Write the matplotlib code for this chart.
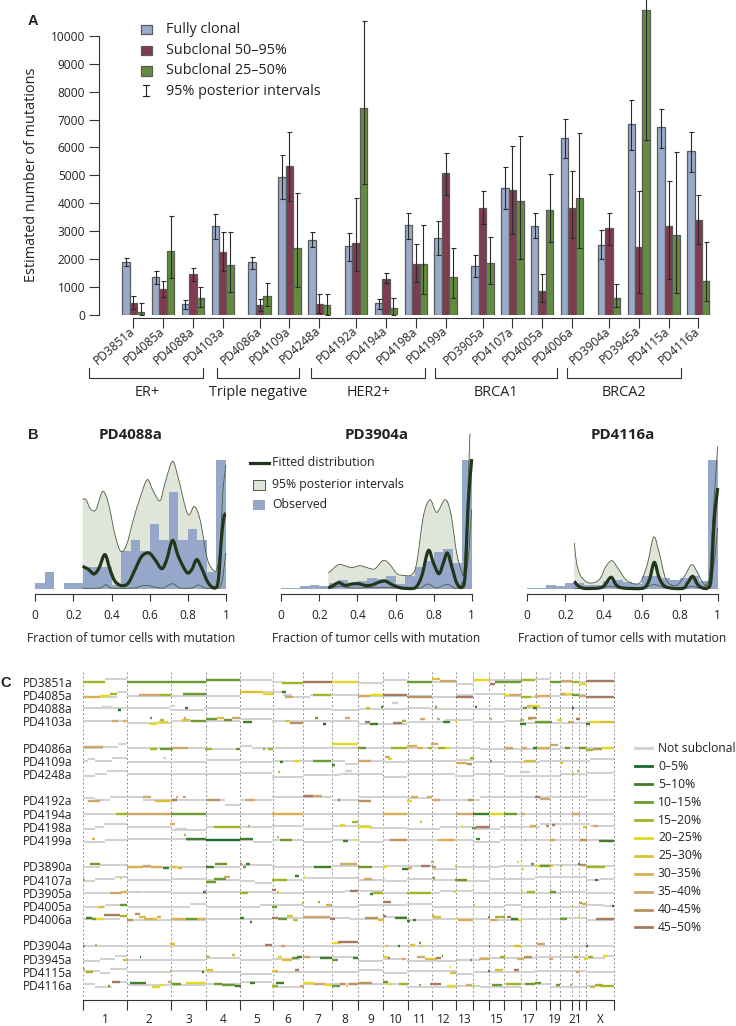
import numpy as np
import matplotlib
matplotlib.use('Agg')
import matplotlib.pyplot as plt
from matplotlib.patches import Rectangle, PathPatch
from matplotlib.path import Path

plt.rcParams['font.family'] = ['Open Sans', 'DejaVu Sans']

W, H = 736, 1026

# ---- panel A data
samples_a = ['PD3851a', 'PD4085a', 'PD4088a', 'PD4103a', 'PD4086a', 'PD4109a', 'PD4248a',
             'PD4192a', 'PD4194a', 'PD4198a', 'PD4199a', 'PD3905a', 'PD4107a', 'PD4005a',
             'PD4006a', 'PD3904a', 'PD3945a', 'PD4115a', 'PD4116a']
group_a = [0, 0, 0, 0, 1, 1, 1, 2, 2, 2, 2, 3, 3, 3, 3, 4, 4, 4, 4]
group_names = ['ER+', 'Triple negative', 'HER2+', 'BRCA1', 'BRCA2']

clonal = [1900, 1330, 370, 3160, 1870, 4930, 2690, 2450, 420, 3200, 2730, 1725, 4530, 3190, 6340, 2510, 6830, 6720, 5860]
clonal_lo = [1750, 1080, 200, 2700, 1650, 4150, 2420, 1930, 200, 2720, 2130, 1330, 3800, 2730, 5620, 2010, 5920, 5980, 5110]
clonal_hi = [2030, 1550, 510, 3600, 2060, 5730, 2950, 2930, 570, 3650, 3350, 2120, 5280, 3630, 7020, 3020, 7710, 7380, 6550]
sub50 = [430, 920, 1460, 2240, 340, 5330, 380, 2580, 1290, 1800, 5080, 3810, 4480, 830, 3840, 3090, 2440, 3160, 3380]
sub50_lo = [200, 620, 1200, 1550, 120, 4060, 50, 1550, 1120, 1160, 4300, 3250, 2890, 455, 2750, 2510, 780, 1260, 2530]
sub50_hi = [660, 1220, 1660, 2950, 570, 6570, 750, 4200, 1480, 2540, 5810, 4420, 6060, 1470, 5170, 3630, 4450, 4800, 4290]
sub25 = [80, 2270, 580, 1770, 680, 2380, 330, 7420, 250, 1820, 1330, 1860, 4060, 3750, 4200, 610, 10950, 2870, 1220]
sub25_lo = [0, 1300, 270, 820, 300, 1000, 0, 4700, 0, 750, 590, 1100, 2000, 2600, 2370, 260, 6250, 780, 500]
sub25_hi = [400, 3530, 970, 2960, 1140, 4360, 720, 10530, 600, 3220, 2380, 2800, 6400, 5050, 6500, 1100, 11600, 5820, 2610]

# ---- panel B data
hist_edges = np.arange(0, 1.0001, 0.05)
b_titles = ['PD4088a', 'PD3904a', 'PD4116a']
hist_b = [
    [4.9, 13.2, 0, 4.9, 4.9, 17.4, 17.4, 17.4, 3, 29.8, 38, 29.8, 50.5, 38, 75.4, 38, 46.4, 38, 13.2, 100],
    [0.8, 0.8, 2, 3.4, 2, 4.5, 7, 5, 6, 8.5, 8, 10, 3.5, 10, 17.4, 21.5, 28.8, 31.3, 20, 100],
    [0.8, 0.8, 2.8, 2, 4.7, 4.7, 3.4, 3.4, 6, 7.3, 5.4, 3.6, 10.4, 10.4, 8.5, 6.7, 8.5, 10.4, 6, 100],
]
fit_x = [
    [.248, .278, .308, .334, .365, .392, .418, .453, .488, .523, .558, .596, .628, .663, .689, .720, .750, .794, .820, .846, .872, .907, .942, .960, .977, .990, 1.0],
    [.247, .273, .303, .335, .371, .406, .441, .476, .511, .546, .581, .616, .650, .702, .737, .772, .799, .828, .851, .872, .895, .921, .947, .965, .982, 1.0],
    [.247, .264, .299, .378, .405, .440, .466, .501, .606, .641, .667, .693, .729, .816, .842, .869, .895, .921, .947, .965, .982, 1.0],
]
fit_y = [
    [17.6, 15.3, 11.7, 16.3, 26.7, 15.0, 6.0, 2.6, 4.7, 15.0, 25.4, 28.0, 22.8, 15.8, 22.8, 37.8, 25.4, 13.0, 15.0, 22.8, 16.3, 4.7, 0.8, 7.3, 40.9, 56.5, 57.8],
    [.8, 2.8, 4.9, 2.8, 3.9, 4.1, 2.8, 3.1, 5.2, 6.2, 3.4, 1.3, .5, .8, 9.8, 29.8, 20.2, 11.9, 20.2, 28, 17.6, 4.7, 1.3, 9.8, 66.8, 101],
    [6, 2.8, .5, .8, 2.8, 9.1, 3.4, .8, .5, 7.3, 20.7, 8.5, 1.6, .5, 4.7, 9.8, 3.4, .8, .8, 7.3, 53.9, 78.5],
]
up_x = [
    [.248, .266, .290, .318, .353, .383, .418, .448, .479, .514, .549, .587, .619, .654, .680, .719, .750, .799, .834, .864, .899, .925, .951, .969, .983, 1.0],
    [.247, .299, .334, .370, .413, .457, .492, .536, .571, .606, .641, .685, .711, .746, .781, .816, .860, .890, .921, .947, .959, .973, .991],
    [.247, .259, .282, .326, .378, .413, .445, .475, .518, .562, .597, .632, .664, .693, .729, .781, .825, .863, .895, .921, .953, .974, 1.0],
]
up_y = [
    [69.9, 69.4, 62.2, 61.7, 75.8, 66.8, 42.1, 29.3, 34.5, 53.9, 70.7, 85.0, 75.9, 68.6, 82.3, 99.2, 86.3, 58.3, 64.2, 53.9, 25.4, 16.1, 15.0, 33.2, 74.6, 96.6],
    [12.4, 18.9, 18.1, 16.6, 18.1, 16.3, 15.8, 22.3, 18.9, 12, 10.6, 11.1, 20.2, 56.5, 69.4, 59.6, 69.4, 59, 28, 13.7, 13.7, 53.9, 121],
    [35.8, 20.2, 9.8, 4.7, 7.3, 17.6, 22, 16.3, 7.3, 4.1, 5.9, 20.2, 40.4, 28, 7.3, 2.6, 9.8, 18.9, 12.4, 5.2, 4.7, 53.9, 110.9],
]
lo_x = [
    [.248, .339, .371, .400, .514, .575, .636, .671, .720, .759, .820, .855, .890, .951, .977, 1.0],
    [.247, .308, .378, .536, .658, .729, .772, .816, .872, .921, .974, 1.0],
    [.247, .378, .440, .501, .606, .667, .729, .816, .865, .921, .974, 1.0],
]
lo_y = [
    [.5, .8, 3.4, .8, .8, 2.8, 1.3, .8, 4.1, .8, .8, 3.1, .8, .3, 4.7, 28],
    [.3, 2, .8, 1.3, .3, .8, 3.9, .8, 3.6, .3, 15, 61.7],
    [.3, .8, 2.1, .3, .8, 3.4, .8, .3, 2.1, .3, 15, 47.4],
]

# ---- panel C data
chrom_edges = [83.3, 127.3, 171.3, 206.3, 240.3, 272.7, 303.3, 332, 358.3, 383.3, 407.7, 432, 456,
               473.3, 489.3, 504.3, 521, 535.7, 550, 560.3, 572, 579.3, 586.3, 614]
chrom_names = ['1', '2', '3', '4', '5', '6', '7', '8', '9', '10', '11', '12', '13', '', '15', '',
               '17', '', '19', '', '21', '', 'X']
level_names = ['0–5%', '5–10%', '10–15%', '15–20%', '20–25%', '25–30%', '30–35%', '35–40%', '40–45%', '45–50%']
level_cols = ['#1a6a2c', '#3f7f2a', '#6c9a30', '#a3b42a', '#e3d922', '#dcc132', '#d6b052', '#d0a76a', '#b99262', '#a67a62']
grey = '#d2d2d2'

samples_c = ['PD3851a', 'PD4085a', 'PD4088a', 'PD4103a', 'PD4086a', 'PD4109a', 'PD4248a',
             'PD4192a', 'PD4194a', 'PD4198a', 'PD4199a', 'PD3890a', 'PD4107a', 'PD3905a',
             'PD4005a', 'PD4006a', 'PD3904a', 'PD3945a', 'PD4115a', 'PD4116a']
slots_c = [0, 1, 2, 3, 5, 6, 7, 9, 10, 11, 12, 14, 15, 16, 17, 18, 20, 21, 22, 23]

# grey level per sample: (start, offset), each runs until the next start
grey_steps = [
    [(83, 0), (105, -3), (127, 0), (206, -2), (272, 0), (283, 1), (303, 0), (358, 1), (383, -2), (407, 0), (456, 2), (473, -2), (535, -3), (550, 0), (586, -1)],
    [(83, 2), (117, -3), (127, 1), (240, -3), (283, 0), (292, 2), (310, 0), (358, 1), (432, 2), (456, 0), (473, -1), (504, 1), (521, 2), (540, 1), (560, 0), (586, 2)],
    [(83, 0), (170, 2), (204, 0), (240, 1), (332, 2), (358, 1), (407, 0), (430, 1), (473, 1), (520, 0)],
    [(83, 0), (127, 2), (171, 0), (240, -2), (272, 0), (358, 3), (407, 1), (445, -1), (473, 1), (505, 0), (521, 2), (586, 1)],
    [(83, 0), (103, -1), (118, -4), (127, 0), (205, 1), (240, -2), (252, 0), (358, 0), (480, 1), (560, 0)],
    [(83, 0), (88, -2), (95, 0), (112, -3), (127, 1), (206, -1), (240, 1), (272, 0), (345, 3), (358, 0), (385, 1), (407, 0), (456, -1), (473, 1), (540, 0), (590, -2)],
    [(83, 2), (95, 0), (107, -3), (127, 0), (240, -1), (272, 3), (303, 1), (340, 0), (383, 3), (407, 0), (455, 2), (473, 0), (504, 2), (560, 0), (586, -1)],
    [(83, -2), (95, 0), (110, -3), (143, 0), (206, 0), (225, 5), (240, 0), (272, -3), (332, 0), (358, -3), (407, -2), (432, 0), (480, -3), (586, 0)],
    [(83, 0)],
    [(83, 2), (95, 0), (104, -3), (127, 0), (172, 3), (206, 0), (272, -1), (303, 2), (332, -1), (370, 1), (407, 2), (440, 0), (473, 2), (500, 0), (540, -3), (590, -1)],
    [(83, 2), (105, 0), (127, -1), (186, 0), (253, 2), (272, 0), (303, 2), (332, 0), (360, 2), (383, 0), (473, 2), (500, 0)],
    [(83, 1), (100, -1), (127, 1), (240, -1), (272, 1), (332, 0), (358, 1), (383, 0), (432, 3), (456, 1), (500, 0), (540, -1), (586, 0)],
    [(83, 1), (95, -1), (115, -3), (127, 0), (171, -1), (206, 0), (240, 1), (255, 3), (272, 0), (303, -2), (358, 0), (385, 1), (407, -1), (432, 0), (456, 1), (490, -1), (535, -3), (586, 0), (600, -1)],
    [(83, 0), (120, -1), (171, 0), (206, -1), (272, 0), (303, -1), (345, -2), (383, 0), (440, -2), (473, 0), (560, -1), (586, 0)],
    [(83, 1), (105, -1), (127, 1), (190, -2), (206, 1), (260, -1), (303, 1), (358, -1), (407, -2), (432, 1), (505, -1), (521, 1), (586, -1), (604, 0)],
    [(83, 0), (120, -3), (127, 1), (206, 0), (272, -1), (350, 0), (383, -2), (407, 1), (432, 0), (490, 1), (521, 0), (560, -1), (586, 1)],
    [(83, 0)],
    [(83, 2), (100, 0), (115, -3), (127, 1), (206, -1), (240, 1), (272, 0), (300, -2), (358, 2), (383, 0), (407, 2), (456, 1), (480, -1), (535, -2), (586, -1), (605, -3)],
    [(83, -1), (100, 1), (110, -3), (127, 0), (171, -1), (206, 0), (240, 2), (272, 0), (358, -2), (383, 1), (407, -1), (456, 2), (473, 0), (535, -1), (586, 0)],
    [(83, -1), (95, 2), (112, -3), (127, 0), (206, -1), (240, -3), (272, 2), (303, -1), (407, 2), (456, 1), (480, 2), (521, -1), (550, 2), (586, 1)],
]

# coloured segments per sample: (start, end, offset, level), level -1 is a grey speck
segs = [
    [(83, 105, 0, 3), (127, 206, 0, 2), (206, 240, -2, 2), (282, 303, 1, 3), (303, 332, 0, 9), (332, 358, 0, 4), (407, 432, 0, 2), (432, 440, -3, 5), (440, 456, -1, 7), (473, 490, -2, 4), (490, 495, 2, 9), (495, 521, 0, 2), (521, 535, -2, 3), (550, 561, 0, 2), (561, 572, -1, 7), (572, 579, 0, 3), (579, 586, 2, 4), (586, 614, -1, 9)],
    [(83, 100, 2, 6), (100, 110, 1, 4), (110, 117, -1, 3), (139, 160, 0, 7), (160, 171, 0, 3), (183, 206, -1, 2), (240, 263, -3, 5), (263, 273, -1, 4), (282, 286, -3, 1), (285, 293, 2, 7), (313, 331, 0, 3), (358, 370, 1, 7), (370, 383, 0, 4), (383, 407, 0, 9), (407, 432, 2, 8), (456, 473, 2, 9), (504, 510, 0, 4), (510, 521, 0, 7), (521, 531, 2, 3), (535, 550, 1, 6), (560, 565, -1, 7), (565, 572, -1, 4), (572, 579, 0, 2), (579, 586, 1, 7), (586, 614, 2, 9)],
    [(102, 112, -1, -1), (118, 121, 2, 0), (170, 175, -2, -1), (185, 188, 0, 1), (366, 370, 0, 5), (381, 383, -1, 1), (392, 398, -5, -1), (435, 437, -1, 2), (475, 477, -1, 1), (523, 527, 0, 2), (527, 531, -2, 5), (531, 540, -2, 4), (533, 537, 0, 1), (572, 574, 0, 1)],
    [(112, 118, 0, 7), (123, 128, 0, 6), (150, 152, -3, 9), (150, 157, 3, 4), (158, 168, 1, 4), (160, 164, -1, 7), (182, 190, -1, 5), (184, 186, -3, 7), (191, 206, 0, 2), (206, 217, -2, 2), (217, 224, -3, 5), (224, 232, -1, 2), (232, 240, -3, 7), (243, 252, 1, 1), (285, 290, 0, 5), (290, 303, 2, 8), (315, 318, -3, 2), (323, 326, 3, 0), (345, 350, -3, 7), (365, 370, 1, 9), (370, 378, 3, 1), (393, 402, 2, 9), (402, 406, 0, 3), (420, 425, -2, 7), (437, 440, -2, 7), (443, 450, 1, 1), (455, 457, 0, 4), (490, 492, -2, 7), (520, 526, 3, 1), (520, 524, -1, 7), (528, 532, -2, 5), (528, 536, -3, 8), (535, 552, 1, 2), (557, 562, -1, 4), (568, 574, 1, 7), (576, 580, -2, 9), (586, 590, 3, 1), (590, 600, 1, 4), (600, 614, 1, 5)],
    [(83, 103, -1, 7), (150, 157, 1, 3), (160, 173, 1, 2), (173, 188, 0, 7), (205, 212, 1, 3), (236, 240, 1, 2), (263, 265, 1, 8), (268, 273, 1, 3), (332, 358, -4, 4), (358, 366, 0, 2), (391, 407, 0, 3), (407, 417, -2, 6), (417, 423, 0, 6), (428, 432, 0, 3), (431, 438, -4, 7), (438, 445, 0, 3), (445, 450, 0, 4), (505, 513, 0, 7), (522, 527, 0, 7), (533, 537, 0, 1), (537, 550, 0, 6), (550, 558, -3, 7), (565, 570, 0, 2), (579, 586, 0, 2), (586, 593, 2, 3), (593, 602, 1, 8), (602, 614, 0, 4)],
    [(163, 166, -3, -1), (280, 283, 1, 1), (294, 300, 0, 4), (313, 331, 0, 2), (332, 335, 4, 1), (358, 371, 0, 7), (385, 390, -4, 7), (388, 392, -2, 4), (456, 467, 2, 6), (467, 472, 3, 8), (470, 474, -3, 3), (490, 492, 0, 9), (524, 536, 0, 5), (560, 563, 2, 5)],
    [(278, 280, -2, 6), (572, 574, 0, 5), (577, 579, -3, 7), (345, 352, -3, -1), (520, 530, -2, -1)],
    [(88, 100, 1, 7), (143, 151, -3, 7), (155, 172, 1, 5), (172, 177, 0, 9), (176, 178, -3, 7), (183, 186, -3, 7), (206, 220, 0, 8), (245, 255, 0, 7), (303, 313, -4, 9), (313, 322, -4, 7), (338, 340, 0, 9), (358, 371, 1, 8), (407, 412, 1, 4), (411, 418, -3, 6), (427, 432, -3, 6), (432, 440, 0, 7), (468, 474, 0, 8), (535, 540, -3, 9), (540, 550, -1, 7)],
    [(116, 127, 0, 3), (127, 171, 0, 7), (171, 206, 0, 2), (272, 303, 0, 6), (383, 407, 0, 6), (456, 473, 0, 7), (473, 489, 0, 1), (489, 504, 0, 4), (504, 517, 0, 2), (521, 525, 0, 6), (572, 580, 0, 7)],
    [(170, 175, -3, 6), (175, 187, 2, -1), (214, 240, 0, 3), (248, 250, -1, 7), (340, 345, -2, 4), (352, 358, -5, 3), (358, 372, 0, 4), (420, 422, -5, 5), (462, 463, -1, 4), (472, 476, 1, 2), (476, 490, 0, 9), (530, 536, -1, 6), (546, 549, -1, 8), (552, 555, -2, 9), (583, 587, 0, 5), (593, 598, -1, 7)],
    [(92, 95, -1, 6), (184, 186, -5, 6), (186, 206, -1, 1), (206, 240, 0, 0), (240, 253, -1, 1), (277, 279, -3, 7), (280, 292, 0, 2), (343, 348, 1, 1), (354, 355, 0, 4), (390, 407, 0, 8), (438, 455, 0, 6), (476, 480, -1, 1), (525, 526, 0, 7), (550, 555, 0, 7), (580, 587, 0, 8), (599, 614, 1, 1)],
    [(90, 100, -2, 2), (127, 143, 1, 6), (143, 151, 0, 7), (151, 162, 1, 6), (163, 169, 2, 1), (172, 177, 1, 5), (178, 182, 2, 6), (206, 214, 1, 1), (215, 227, -2, 2), (240, 242, -2, 9), (243, 246, 1, 2), (246, 250, -2, 1), (314, 331, 1, 1), (340, 357, -2, 7), (358, 372, 1, 2), (383, 387, 1, 4), (402, 408, 3, 1), (408, 412, 2, 7), (421, 430, 0, 9), (431, 434, -4, 7), (432, 436, 1, 8), (455, 457, 0, 5), (517, 519, -4, 4), (521, 524, 3, 4), (531, 534, -2, 2), (535, 541, 0, 4), (540, 550, 0, 2), (550, 553, 0, 5), (560, 562, 0, 7), (578, 580, -2, 1), (580, 586, -1, 8), (586, 605, 1, 3)],
    [(83, 85, 0, 3), (120, 122, -2, 4), (206, 216, 2, 2), (214, 226, -1, 2), (224, 230, -3, 7), (272, 287, 0, 3), (295, 299, -4, 1), (304, 305, -3, 4), (364, 372, -1, 7), (433, 435, -2, 2), (455, 467, 0, 2), (595, 598, 0, 1)],
    [(110, 122, 0, 7), (122, 127, -1, 6), (137, 138, -1, 6), (203, 206, -1, 1), (240, 248, 0, 3), (272, 276, -3, 9), (277, 279, -1, 5), (350, 358, -2, 9), (370, 373, 1, 1), (373, 383, 0, 3), (407, 431, 0, 3), (454, 456, -1, 4), (521, 523, -1, 4), (527, 535, -1, 3), (550, 556, -1, 2)],
    [(98, 104, 1, 5), (120, 127, -1, 2), (272, 277, 1, 2), (302, 304, -3, 6), (318, 320, -4, 3), (326, 332, -1, 6), (383, 391, -4, 9), (473, 475, -1, 5), (572, 573, 0, 3), (579, 582, -3, 3), (582, 587, -2, 7), (612, 614, 0, 1)],
    [(86, 92, -1, 1), (92, 97, 0, 2), (96, 104, 0, 4), (104, 120, -4, 9), (120, 127, -3, 3), (127, 133, 1, 8), (135, 140, -5, 8), (139, 146, -2, 5), (144, 152, 0, 6), (152, 157, 0, 5), (157, 161, -2, 6), (171, 186, 0, 6), (186, 197, 0, 2), (197, 206, 0, 6), (240, 244, -1, 1), (250, 252, 3, 1), (272, 278, -1, 9), (278, 287, 0, 2), (287, 293, -3, 5), (293, 298, 1, 6), (303, 330, -2, 7), (330, 335, 0, 9), (365, 378, -1, 8), (378, 384, 1, 5), (383, 386, -3, 9), (395, 407, -1, 1), (407, 410, 2, 1), (413, 416, 1, 1), (432, 435, -3, 6), (433, 441, -2, 5), (456, 458, -1, 4), (458, 473, 1, 6), (488, 490, -2, 2), (490, 497, 1, 7), (495, 505, -2, 3), (507, 511, -2, 9), (511, 518, 0, 1), (518, 522, 1, 4), (560, 567, 0, 2), (578, 580, -2, 4), (596, 614, 0, 9)],
    [(83, 85, 0, 9), (95, 97, -1, 7), (170, 175, -2, 5), (265, 272, -1, 9), (281, 285, 0, 7), (332, 341, -3, 4), (338, 358, -4, 9), (386, 388, 0, 5), (398, 400, 0, 1), (410, 415, -1, 5), (419, 421, -3, 2), (421, 423, 0, 4), (489, 490, 0, 1), (514, 521, 0, 5), (537, 545, -2, 7), (586, 588, 0, 1)],
    [(123, 128, 1, 6), (140, 141, -2, 0), (206, 210, -2, 6), (232, 235, -4, 6), (278, 282, -2, 4), (282, 292, 1, 5), (292, 298, -1, 2), (297, 302, -2, 1), (303, 310, -2, 7), (320, 332, -1, 1), (332, 338, 1, 2), (353, 358, -1, 1), (383, 388, -2, 4), (388, 390, -1, 9), (402, 405, 0, 7), (417, 425, -2, 7), (425, 437, 0, 5), (436, 441, -1, 9), (442, 443, -3, 1), (456, 457, 1, 7), (470, 472, 1, 9), (479, 490, 0, 6), (500, 505, -2, 3), (517, 524, 0, 6), (524, 532, -2, 8), (549, 553, 0, 7), (574, 578, -2, 3), (584, 588, 0, 4), (588, 593, -2, 3), (603, 608, -3, 4)],
    [(83, 85, -3, 7), (86, 93, 0, 3), (170, 172, -1, 7), (202, 204, 0, 1), (206, 213, -2, 5), (272, 278, -1, 5), (295, 299, -2, 9), (450, 451, -5, 4), (450, 456, 1, 5), (488, 490, -1, 1), (495, 503, -2, 5), (514, 519, -2, 9), (576, 580, 0, 7)],
    [(108, 110, 1, 2), (112, 120, -3, 9), (130, 146, -2, 1), (152, 160, 2, 4), (160, 163, 0, 4), (168, 172, -3, 7), (172, 181, -1, 2), (186, 206, -2, 4), (214, 222, -1, 2), (222, 235, 0, 2), (235, 241, 1, 1), (250, 255, -2, 1), (272, 278, 1, 3), (276, 284, -2, 1), (300, 304, 1, 7), (303, 314, -2, 4), (314, 325, -1, 7), (325, 332, 0, 4), (332, 340, 1, 2), (340, 345, -1, 8), (346, 348, 1, 4), (349, 358, -1, 8), (358, 372, -2, 8), (383, 388, -3, 2), (388, 392, -1, 4), (399, 408, -1, 3), (419, 421, 0, 3), (430, 441, -1, 9), (447, 456, 1, 4), (466, 472, 0, 6), (473, 475, 1, 4), (492, 502, 0, 2), (506, 521, -1, 3), (525, 535, -1, 2), (535, 541, -2, 2), (556, 560, 0, 2), (570, 572, 0, 7), (590, 595, 2, 6), (595, 603, 0, 3), (600, 614, 1, 3)],
]


def px_axes(x0, y0, x1, y1, **kw):
    return fig.add_axes([x0 / W, 1 - y1 / H, (x1 - x0) / W, (y1 - y0) / H], **kw)


def curve_verts(xs, ys):
    # cubic pieces through the read points, so the curve is not drawn with corners
    p = np.column_stack([xs, ys])
    t = np.gradient(p, axis=0) / 3.0
    verts = [p[0]]
    for k in range(len(p) - 1):
        c1 = p[k] + t[k]
        c2 = p[k + 1] - t[k + 1]
        c1[1] = max(c1[1], 0)
        c2[1] = max(c2[1], 0)
        verts += [c1, c2, p[k + 1]]
    return np.array(verts)


def curve_path(xs, ys):
    v = curve_verts(xs, ys)
    return Path(v, [Path.MOVETO] + [Path.CURVE4] * (len(v) - 1))


fig = plt.figure(figsize=(W / 100, H / 100), dpi=100, facecolor='white')
ink = '#222222'
spine = '#333333'

# ---- A: bars
blue, wine, green = '#9aaac9', '#7f3c50', '#638c3f'
edge = '#5a5a5a'
pos = np.arange(19) + 0.24 * np.array(group_a)
bw = 0.25

ax = px_axes(98.5, 0, 712, 314.5)
ax.set_xlim(-34.8 / 29.8, (712 - 133.3) / 29.8)
ax.set_ylim(0, 11293)
series = [(clonal, clonal_lo, clonal_hi, blue, -bw), (sub50, sub50_lo, sub50_hi, wine, 0), (sub25, sub25_lo, sub25_hi, green, bw)]
for vals, lo, hi, col, off in series:
    vals, lo, hi = np.array(vals), np.array(lo), np.array(hi)
    ax.bar(pos + off, vals, bw, color=col, edgecolor=edge, linewidth=0.9)
    ax.errorbar(pos + off, vals, yerr=[vals - lo, hi - vals], fmt='none', ecolor='#2a2a2a',
                elinewidth=0.8, capsize=1.8, capthick=0.8)
for s in ['top', 'right']:
    ax.spines[s].set_visible(False)
ax.spines['left'].set_bounds(0, 10000)
ax.spines['left'].set_linewidth(0.8)
ax.spines['left'].set_color(spine)
ax.spines['bottom'].set_position(('outward', 2.2))
ax.spines['bottom'].set_bounds(pos[0], pos[-1])
ax.spines['bottom'].set_linewidth(0.8)
ax.spines['bottom'].set_color(spine)
ax.set_yticks(np.arange(0, 10001, 1000))
ax.tick_params(axis='y', length=7, width=0.8, color=spine, labelsize=8.6, pad=2.6, labelcolor=ink)
ax.set_xticks(pos)
ax.set_xticklabels(samples_a, rotation=41, ha='right', va='center', rotation_mode='anchor', fontsize=8.6, color=ink)
ax.tick_params(axis='x', length=7.5, width=0.8, color=spine, pad=1)
ax.set_ylabel('Estimated number of mutations', fontsize=10.4, color=ink, va='center')
ax.yaxis.set_label_coords((32 - 98.5) / 613.5, (314.5 - 175) / 314.5)

# ---- B: fitted distributions
b_frames = [(35.3, 226), (281.3, 471.7), (527.3, 717.7)]
for i, (x0, x1) in enumerate(b_frames):
    bx = px_axes(x0, 425, x1, 589)
    bx.set_xlim(0, 1)
    bx.set_ylim(0, 127.5)
    band = np.vstack([curve_verts(up_x[i], up_y[i]), curve_verts(lo_x[i][::-1], lo_y[i][::-1])])
    n_up = 3 * (len(up_x[i]) - 1) + 1
    n_lo = 3 * (len(lo_x[i]) - 1) + 1
    codes = [Path.MOVETO] + [Path.CURVE4] * (n_up - 1) + [Path.LINETO] + [Path.CURVE4] * (n_lo - 1)
    bx.add_patch(PathPatch(Path(band, codes), facecolor='#dfe5d8', lw=0, clip_on=False, zorder=1))
    bx.bar(hist_edges[:-1], hist_b[i], 0.05, align='edge', color='#96a8ca', lw=0, zorder=2)
    for xs, ys in [(up_x[i], up_y[i]), (lo_x[i], lo_y[i])]:
        bx.add_patch(PathPatch(curve_path(xs, ys), fill=False, edgecolor='#4a5c3e', lw=0.6, clip_on=False, zorder=3))
    bx.add_patch(PathPatch(curve_path(fit_x[i], fit_y[i]), fill=False, edgecolor='#22361c', lw=2.3, clip_on=False, zorder=4))
    for s in ['top', 'right', 'left']:
        bx.spines[s].set_visible(False)
    bx.patch.set_alpha(0)
    bx.spines['bottom'].set_position(('outward', 3.6))
    bx.spines['bottom'].set_linewidth(0.8)
    bx.spines['bottom'].set_color(spine)
    bx.set_yticks([])
    bx.set_xticks(np.arange(0, 1.01, 0.2))
    bx.set_xticklabels(['0', '0.2', '0.4', '0.6', '0.8', '1'], fontsize=8.6, color=ink)
    bx.tick_params(axis='x', length=5, width=0.8, color=spine, pad=6)
    bx.set_xlabel('Fraction of tumor cells with mutation', fontsize=8.75, color=ink, labelpad=7)
    bx.text(0.5, (589 - 435) / 164, b_titles[i], transform=bx.transAxes, fontsize=10.8, fontweight='bold',
            color=ink, ha='center', va='center')

# ---- C: subclonal genome map
cx = px_axes(83.3, 672, 614, 1000)
row_gap = 13.19
cx.set_xlim(83.3, 614)
cx.set_ylim(318.3, -9.7)
cx.vlines(chrom_edges, -9.7, 315, color='#888888', lw=0.7, linestyle=(0, (1.8, 2.4)), zorder=1, clip_on=False)
for slot, steps, row in zip(slots_c, grey_steps, segs):
    y = slot * row_gap
    starts = [s[0] for s in steps] + [614]
    for j, (x, dy) in enumerate(steps):
        cx.hlines(y + dy, x, starts[j + 1], color=grey, lw=1.5, zorder=2)
    for x0, x1, dy, lev in row:
        col = grey if lev < 0 else level_cols[lev]
        cx.hlines(y + dy, x0, x1, color=col, lw=1.7, zorder=3)
for s in ['top', 'right', 'left']:
    cx.spines[s].set_visible(False)
cx.spines['bottom'].set_linewidth(0.8)
cx.spines['bottom'].set_color(spine)
cx.set_xticks(chrom_edges)
cx.set_xticklabels([])
cx.tick_params(axis='x', which='major', length=7, width=0.8, color=spine)
mids = [(a + b) / 2 for a, b in zip(chrom_edges[:-1], chrom_edges[1:])]
cx.set_xticks(mids, minor=True)
cx.set_xticklabels(chrom_names, minor=True, fontsize=8.6, color=ink)
cx.tick_params(axis='x', which='minor', length=0, pad=9.5)
cx.set_yticks([s * row_gap for s in slots_c])
cx.set_yticklabels(samples_c, fontsize=8.6, color=ink)
cx.tick_params(axis='y', length=0, pad=8)

# ---- texts, legends and brackets in figure pixels
ov = fig.add_axes([0, 0, 1, 1], zorder=10)
ov.set_xlim(0, W)
ov.set_ylim(H, 0)
ov.axis('off')
ov.patch.set_alpha(0)

for lab, x, y in [('A', 33, 21), ('B', 33, 435), ('C', 6, 683)]:
    ov.text(x, y, lab, fontsize=10.5, fontweight='bold', family='Liberation Sans', ha='center', va='center', color=ink)

leg_a = [('Fully clonal', blue), ('Subclonal 50–95%', wine), ('Subclonal 25–50%', green)]
for (lab, col), y in zip(leg_a, [29.7, 50.5, 71]):
    ov.add_patch(Rectangle((140.7, y - 4.7), 11, 9.4, facecolor=col, edgecolor=edge, lw=0.9))
    ov.text(165.5, y, lab, fontsize=10.4, va='center', color=ink)
ov.plot([146, 146], [85, 96], color=ink, lw=0.8)
ov.plot([143, 149], [85, 85], color=ink, lw=0.8)
ov.plot([143, 149], [96, 96], color=ink, lw=0.8)
ov.text(165.5, 91.3, '95% posterior intervals', fontsize=10.4, va='center', color=ink)

brackets = [(89.3, 203.3, 146.7), (216.7, 299.3, 258), (311.3, 425.3, 368.5), (435.3, 556.7, 496), (566.7, 680.7, 624)]
for (x0, x1, xc), name in zip(brackets, group_names):
    ov.plot([x0, x0, x1, x1], [367.7, 377.7, 377.7, 367.7], color=spine, lw=0.8)
    ov.text(xc, 393, name, fontsize=10.4, ha='center', va='center', color=ink)

ov.plot([250, 269], [463, 463], color='#22361c', lw=2.3)
ov.text(272.5, 463, 'Fitted distribution', fontsize=8.8, va='center', color=ink)
ov.add_patch(Rectangle((253, 480), 12, 9.5, facecolor='#dfe5d8', edgecolor='#4a5c3e', lw=0.7))
ov.text(272.5, 484.5, '95% posterior intervals', fontsize=8.8, va='center', color=ink)
ov.add_patch(Rectangle((253, 500), 12, 9.5, facecolor='#96a8ca', lw=0))
ov.text(272.5, 505, 'Observed', fontsize=8.8, va='center', color=ink)

ov.plot([635, 652], [748.3, 748.3], color=grey, lw=2)
ov.text(658, 748.3, 'Not subclonal', fontsize=8.7, va='center', color=ink)
for j, (lab, col) in enumerate(zip(level_names, level_cols)):
    y = 766.3 + j * 17.9
    ov.plot([635, 652], [y, y], color=col, lw=2)
    ov.text(658, y, lab, fontsize=8.7, va='center', color=ink)

fig.savefig('out.png', dpi=100)
